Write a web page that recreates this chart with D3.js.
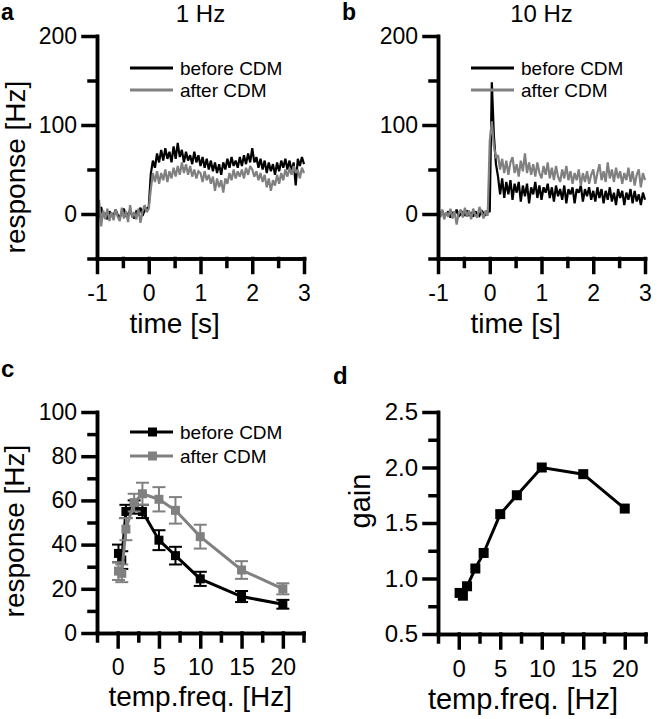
<!DOCTYPE html>
<html><head><meta charset="utf-8">
<script src="https://cdn.jsdelivr.net/npm/d3@7"></script>
<style>
body{margin:0;background:#fff}
svg{display:block}
text{font-family:"Liberation Sans",Arial,Helvetica,sans-serif;fill:#000}
</style>
</head><body>
<svg id="fig" width="662" height="719"></svg>
<script>
// ---------- DATA ----------
// PSTH traces: bins of 0.04 s starting at -1 s
const binStart = -1, binWidth = 0.04;
const a_before = [2,-4,8,-3,1,-6,3,0,-2,5,-1,-4,2,6,-3,0,4,-2,-5,3,1,7,-2,4,6,
  8,45,60,52,68,58,72,60,74,62,70,58,76,62,80,64,72,58,70,60,66,56,70,58,66,
  54,64,52,62,50,60,48,58,46,56,44,58,50,62,52,64,54,60,52,64,54,66,56,68,58,
  74,58,64,52,62,50,60,46,58,48,56,44,58,48,60,52,62,50,60,48,58,32,62,54,64,56];
const a_after = [-4,16,-14,4,-6,6,-8,2,-7,5,-3,-8,7,-5,3,-9,10,-4,2,-6,6,-10,3,10,2,
  6,28,46,36,48,34,46,38,50,36,48,40,52,42,54,44,58,46,56,44,54,42,50,40,48,
  46,36,48,38,44,34,42,26,40,30,38,24,40,34,46,38,50,40,48,42,50,40,52,44,54,
  50,42,48,38,46,36,44,30,40,26,38,32,44,34,46,38,50,42,52,44,54,46,50,40,52,46];
const b_before = [1,-3,4,-2,0,3,-4,2,-1,5,-3,0,2,-2,4,-1,1,-3,3,0,-2,4,1,-1,2,
  3,148,88,56,42,22,40,18,36,22,38,16,34,24,36,14,32,20,34,12,30,22,36,18,32,
  16,30,24,34,18,30,14,32,20,28,16,32,12,28,22,30,12,28,24,32,14,28,20,30,16,
  26,14,30,18,28,12,26,16,30,14,24,10,28,18,26,10,24,16,28,12,26,14,22,10,24,16];
const b_after = [8,-4,5,-6,2,-3,6,-5,3,-12,1,5,-4,7,-3,4,-6,6,-1,-4,8,2,-5,4,-2,
  82,104,76,64,66,50,62,46,60,44,58,64,46,56,42,60,48,68,46,58,44,56,42,58,46,
  40,54,44,58,40,52,38,54,42,36,50,40,54,38,48,34,46,38,50,32,46,36,48,34,44,
  50,34,46,56,38,48,36,58,40,50,36,52,40,48,34,46,38,52,36,48,32,44,50,30,46,38];
const timeTicks = [-1, 0, 1, 2, 3];
const timeMinor = [-0.5, 0.5, 1.5, 2.5];
const psthTicks = [0, 100, 200];
const psthMinor = [-50, 50, 150];

// Tuning curves
const freq = [0.1, 0.5, 1, 2, 3, 5, 7, 10, 15, 20];
const respBefore = [36, 33, 55, 57, 55, 42, 35, 24.5, 16.5, 13];
const errBefore  = [4, 4, 3, 3, 3, 4.5, 4, 3.2, 2.5, 2];
const respAfter  = [28, 27, 47, 59, 63, 60.5, 55.5, 43.6, 28.5, 20];
const errAfter   = [4, 4, 5, 4, 5, 5.5, 6, 5.4, 4, 2.5];
const gain       = [0.87, 0.845, 0.93, 1.09, 1.23, 1.58, 1.75, 2.0, 1.94, 1.63];
const freqTicks = [0, 5, 10, 15, 20];
const freqMinor = [-2.5, 2.5, 7.5, 12.5, 17.5, 22.5];
const respTicks = [0, 20, 40, 60, 80, 100];
const respMinor = [10, 30, 50, 70, 90];
const gainTicks = [0.5, 1.0, 1.5, 2.0, 2.5];
const gainMinor = [0.75, 1.25, 1.75, 2.25];

const seriesNames = ["before CDM", "after CDM"];
const BLACK = "#000", GRAY = "#808080";

// ---------- DRAW ----------
const svg = d3.select("#fig");
const FONT_TICK = 23, FONT_TITLE = 28;

function axes(g, x, y, o) {
  const fs = o.fontTick || FONT_TICK;
  const gx = g.append("g").attr("transform", `translate(0,${y.range()[0]})`);
  gx.append("g").call(d3.axisBottom(x).tickValues(o.xMinor).tickSize(8).tickSizeOuter(0).tickFormat(""));
  gx.append("g").call(d3.axisBottom(x).tickValues(o.xTicks).tickSize(14).tickSizeOuter(0).tickPadding(12).tickFormat(o.xFmt || (d => d)));
  const gy = g.append("g").attr("transform", `translate(${x.range()[0]},0)`);
  gy.append("g").call(d3.axisLeft(y).tickValues(o.yMinor).tickSize(8).tickSizeOuter(0).tickFormat(""));
  gy.append("g").call(d3.axisLeft(y).tickValues(o.yTicks).tickSize(14).tickSizeOuter(0).tickPadding(6).tickFormat(o.yFmt || (d => d)));
  g.selectAll(".domain, .tick line").attr("stroke", "#000").attr("stroke-width", 3.5).attr("stroke-linecap", "square");
  g.selectAll(".tick text").attr("font-size", fs).attr("font-family", '"Liberation Sans",Arial,sans-serif').attr("fill", "#000");
  g.selectAll(".tick text").text(function(){ return this.textContent.replace("\u2212", "-"); });
}

function psthPanel(ox, before, after, title, letter, showYTitle) {
  const x = d3.scaleLinear().domain([-1, 3]).range([ox, ox + 207]);
  const y = d3.scaleLinear().domain([-50, 200]).range([258.5, 36]);
  const g = svg.append("g");
  const t = before.map((_, i) => binStart + i * binWidth);
  const line = d3.line().x((d, i) => x(t[i])).y(d => y(d));
  g.append("path").datum(before).attr("d", line).attr("fill", "none").attr("stroke", BLACK).attr("stroke-width", 2.2).attr("stroke-linejoin", "miter").attr("stroke-miterlimit", 2);
  g.append("path").datum(after).attr("d", line).attr("fill", "none").attr("stroke", GRAY).attr("stroke-width", 2.2).attr("stroke-linejoin", "miter").attr("stroke-miterlimit", 2);
  axes(g, x, y, {xTicks: timeTicks, xMinor: timeMinor, yTicks: psthTicks, yMinor: psthMinor});
  const lg = g.append("g");
  [[BLACK, 68], [GRAY, 90]].forEach(([c, yy], i) => {
    lg.append("line").attr("x1", ox + 33).attr("x2", ox + 76).attr("y1", yy).attr("y2", yy).attr("stroke", c).attr("stroke-width", 3);
    lg.append("text").attr("x", ox + 83).attr("y", yy).attr("dy", "0.35em").attr("font-size", 19).text(seriesNames[i]);
  });
  g.append("text").attr("x", x(1)).attr("y", 22).attr("text-anchor", "middle").attr("font-size", 24).text(title);
  g.append("text").attr("x", x(0.5)).attr("y", 333).attr("text-anchor", "middle").attr("font-size", FONT_TITLE).text("time [s]");
  if (showYTitle) {
    g.append("text").attr("transform", "translate(25,167) rotate(-90)").attr("text-anchor", "middle").attr("font-size", FONT_TITLE).text("response [Hz]");
  }
  g.append("text").attr("x", ox - 96).attr("y", 20).attr("font-size", 23).attr("font-weight", "bold").text(letter);
}

psthPanel(97, a_before, a_after, "1 Hz", "a", true);
psthPanel(438, b_before, b_after, "10 Hz", "b", false);

// Panel c
(function() {
  const ox = 97;
  const x = d3.scaleLinear().domain([-2.5, 22.5]).range([ox, ox + 206.5]);
  const y = d3.scaleLinear().domain([0, 100]).range([633, 412]);
  const g = svg.append("g");
  const line = d3.line().x((d, i) => x(freq[i])).y(d => y(d));
  [[respBefore, errBefore, BLACK], [respAfter, errAfter, GRAY]].forEach(([vals, errs, c]) => {
    g.append("path").datum(vals).attr("d", line).attr("fill", "none").attr("stroke", c).attr("stroke-width", 3);
    const eb = g.append("g").attr("stroke", c).attr("stroke-width", 2);
    vals.forEach((v, i) => {
      const cx = x(freq[i]);
      eb.append("line").attr("x1", cx).attr("x2", cx).attr("y1", y(v - errs[i])).attr("y2", y(v + errs[i]));
      eb.append("line").attr("x1", cx - 6.5).attr("x2", cx + 6.5).attr("y1", y(v - errs[i])).attr("y2", y(v - errs[i]));
      eb.append("line").attr("x1", cx - 6.5).attr("x2", cx + 6.5).attr("y1", y(v + errs[i])).attr("y2", y(v + errs[i]));
    });
    g.append("g").selectAll("rect").data(vals).join("rect")
      .attr("x", (d, i) => x(freq[i]) - 4.5).attr("y", d => y(d) - 4.5)
      .attr("width", 9).attr("height", 9).attr("fill", c);
  });
  axes(g, x, y, {xTicks: freqTicks, xMinor: freqMinor, yTicks: respTicks, yMinor: respMinor});
  [[BLACK, 432], [GRAY, 456]].forEach(([c, yy], i) => {
    g.append("line").attr("x1", 130).attr("x2", 173).attr("y1", yy).attr("y2", yy).attr("stroke", c).attr("stroke-width", 3);
    g.append("rect").attr("x", 148).attr("y", yy - 4.5).attr("width", 9).attr("height", 9).attr("fill", c);
    g.append("text").attr("x", 180).attr("y", yy).attr("dy", "0.35em").attr("font-size", 19).text(seriesNames[i]);
  });
  g.append("text").attr("x", x(10)).attr("y", 706).attr("text-anchor", "middle").attr("font-size", FONT_TITLE).text("temp.freq. [Hz]");
  g.append("text").attr("transform", "translate(24,531) rotate(-90)").attr("text-anchor", "middle").attr("font-size", FONT_TITLE).text("response [Hz]");
  g.append("text").attr("x", 1).attr("y", 377).attr("font-size", 24).attr("font-weight", "bold").text("c");
})();

// Panel d
(function() {
  const ox = 438;
  const x = d3.scaleLinear().domain([-2.5, 22.5]).range([ox, ox + 207.5]);
  const y = d3.scaleLinear().domain([0.5, 2.5]).range([634, 412]);
  const g = svg.append("g");
  const line = d3.line().x((d, i) => x(freq[i])).y(d => y(d));
  g.append("path").datum(gain).attr("d", line).attr("fill", "none").attr("stroke", BLACK).attr("stroke-width", 3);
  g.append("g").selectAll("rect").data(gain).join("rect")
    .attr("x", (d, i) => x(freq[i]) - 5).attr("y", d => y(d) - 5)
    .attr("width", 10).attr("height", 10).attr("fill", BLACK);
  axes(g, x, y, {xTicks: freqTicks, xMinor: freqMinor, yTicks: gainTicks, yMinor: gainMinor, yFmt: d3.format(".1f"), fontTick: 24});
  g.append("text").attr("x", 523).attr("y", 709).attr("text-anchor", "middle").attr("font-size", 29).text("temp.freq. [Hz]");
  g.append("text").attr("transform", "translate(370,501) rotate(-90)").attr("text-anchor", "middle").attr("font-size", 29).text("gain");
  g.append("text").attr("x", 333).attr("y", 384).attr("font-size", 24).attr("font-weight", "bold").text("d");
})();
</script>
</body></html>
